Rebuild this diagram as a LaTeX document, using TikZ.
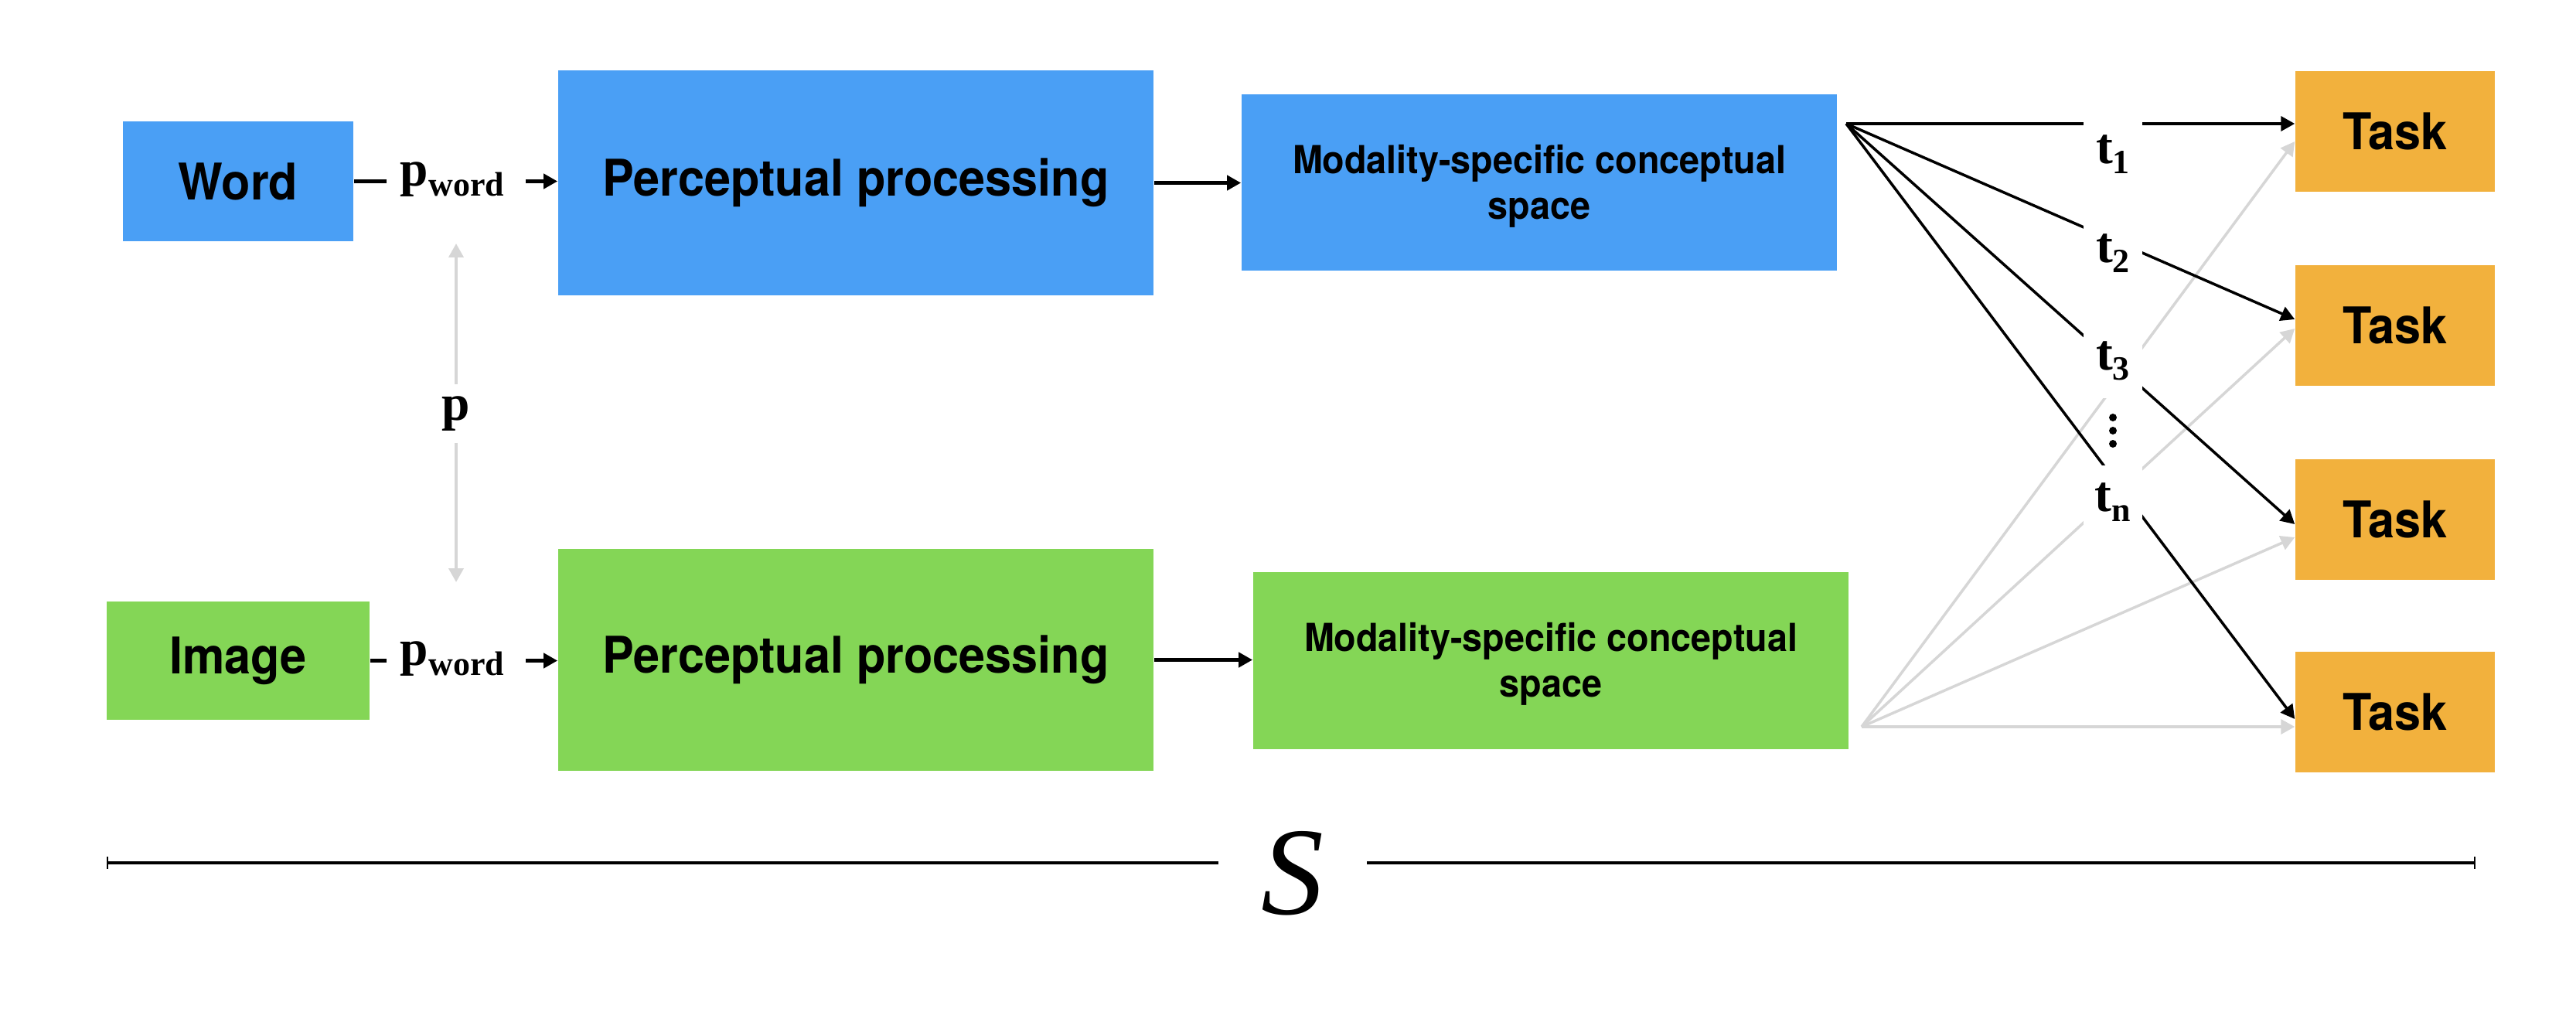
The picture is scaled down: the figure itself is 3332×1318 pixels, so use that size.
\documentclass[tikz,border=0pt]{standalone}
\usepackage{fontspec}
\setmainfont{TeX Gyre Heros}[FakeStretch=0.935]
\newfontfamily\tnr{Liberation Serif}
\usetikzlibrary{arrows.meta,calc}
\definecolor{cblue}{HTML}{4A9FF5}
\definecolor{cgreen}{HTML}{84D656}
\definecolor{corange}{HTML}{F2B13D}
\definecolor{cgrey}{HTML}{D6D6D6}
\newcommand\sbs[1]{\raisebox{-0.2em}{\fontsize{12.5}{14}\selectfont #1}}
\begin{document}
\begin{tikzpicture}[x=0.01cm,y=-0.01cm,
  box/.style={inner sep=0pt, font=\bfseries\fontsize{18.6}{22}\selectfont},
  modbox/.style={inner sep=0pt, align=center, font=\bfseries\fontsize{14.2}{16.8}\selectfont},
  arr/.style={line width=1.2pt, -{Triangle[length=5.1pt,width=5.4pt]}},
  plainline/.style={line width=1.2pt},
  garr/.style={draw=cgrey, line width=1.05pt, -{Triangle[length=5.1pt,width=5.4pt]}},
  fanb/.style={line width=1pt, -{Triangle[length=5.1pt,width=5.4pt]}},
  fang/.style={draw=cgrey, line width=1pt, -{Triangle[length=5.1pt,width=5.4pt]}},
  lbl/.style={fill=white, inner sep=0pt, minimum width=0.76cm, minimum height=0.96cm, font=\tnr\bfseries\fontsize{18.6}{20}\selectfont},
  plbl/.style={inner sep=0pt, font=\tnr\bfseries\fontsize{18.6}{20}\selectfont}]
\useasboundingbox (0,0) rectangle (3332,1318);

% boxes
\node[box, fill=cblue, minimum width=2.98cm, minimum height=1.55cm] (word) at (308,234.5) {Word};
\node[box, fill=cgreen, minimum width=3.40cm, minimum height=1.53cm] (image) at (308,854.5) {Image};
\node[box, fill=cblue, minimum width=7.70cm, minimum height=2.91cm] (pp1) at (1107,236.5) {Perceptual processing};
\node[box, fill=cgreen, minimum width=7.70cm, minimum height=2.87cm] (pp2) at (1107,853.5) {Perceptual processing};
\node[modbox, fill=cblue, minimum width=7.70cm, minimum height=2.28cm] (ms1) at (1991,236) {\rule{0pt}{13.3pt}Modality-specific conceptual\\space};
\node[modbox, fill=cgreen, minimum width=7.70cm, minimum height=2.29cm] (ms2) at (2006,854.5) {\rule{0pt}{13.3pt}Modality-specific conceptual\\space};
\node[box, fill=corange, minimum width=2.58cm, minimum height=1.56cm] (task1) at (3098,170) {Task};
\node[box, fill=corange, minimum width=2.58cm, minimum height=1.56cm] (task2) at (3098,421) {Task};
\node[box, fill=corange, minimum width=2.58cm, minimum height=1.56cm] (task3) at (3098,672) {Task};
\node[box, fill=corange, minimum width=2.58cm, minimum height=1.56cm] (task4) at (3098,921) {Task};

% p_word labels
\node[plbl] (pw1) at (585,232) {p\sbs{word}};
\node[plbl] (pw2) at (585,852) {p\sbs{word}};
\draw[plainline, shorten >=0.17cm] (word.east) -- (word.east -| pw1.west);
\draw[arr, shorten <=0.27cm] (pw1.east |- word.east) -- (word.east -| pp1.west);
\draw[plainline, shorten >=0.17cm] (image.east) -- (image.east -| pw2.west);
\draw[arr, shorten <=0.27cm] (pw2.east |- image.east) -- (image.east -| pp2.west);

% perceptual -> modality
\draw[arr] (pp1.east) -- (pp1.east -| ms1.west);
\draw[arr] (pp2.east) -- (pp2.east -| ms2.west);

% p vertical
\coordinate (ptop) at (590,315);
\coordinate (pbot) at (590,753);
\node[plbl, minimum height=0.74cm] (plab) at (590,535) {p};
\draw[garr] (plab.north) -- (ptop);
\draw[garr] (plab.south) -- (pbot);

% fan
\coordinate (fo) at (2388,160);
\coordinate (go) at (2408,940);
\draw[fang] (go) -- ($(task1.west)+(0,13)$);
\draw[fang] (go) -- ($(task2.west)+(0,4)$);
\draw[fang] (go) -- ($(task3.west)+(0,23)$);
\draw[fang] (go) -- ($(task4.west)+(0,19)$);
\draw[fanb] (fo) -- ($(task1.west)+(0,-10)$);
\draw[fanb] (fo) -- ($(task2.west)+(0,-8)$);
\draw[fanb] (fo) -- ($(task3.west)+(0,6)$);
\draw[fanb] (fo) -- ($(task4.west)+(0,9)$);

\node[lbl] (t1) at (2733,200) {t\sbs{1}};
\node[lbl] (t2) at (2733,328) {t\sbs{2}};
\node[lbl] (t3) at (2733,467) {t\sbs{3}};
\coordinate (dots) at (2733,557);
\foreach \dy in {-17,0,17} \fill ($(dots)+(0,\dy)$) circle (5);
\node[lbl] (tn) at (2733,650) {t\sbs{n}};

% S scale line
\coordinate (sl) at (138,1116);
\coordinate (sr) at (3202,1116);
\node[inner sep=0pt, minimum width=1.91cm, font=\tnr\itshape\fontsize{46}{50}\selectfont] (S) at (1672,1130) {S};
\draw[line width=1pt, {Bar[width=4.5pt,line width=0.6pt]}-] (sl) -- (sl -| S.west);
\draw[line width=1pt, -{Bar[width=4.5pt,line width=0.6pt]}] (S.east |- sl) -- (sr);
\end{tikzpicture}
\end{document}
